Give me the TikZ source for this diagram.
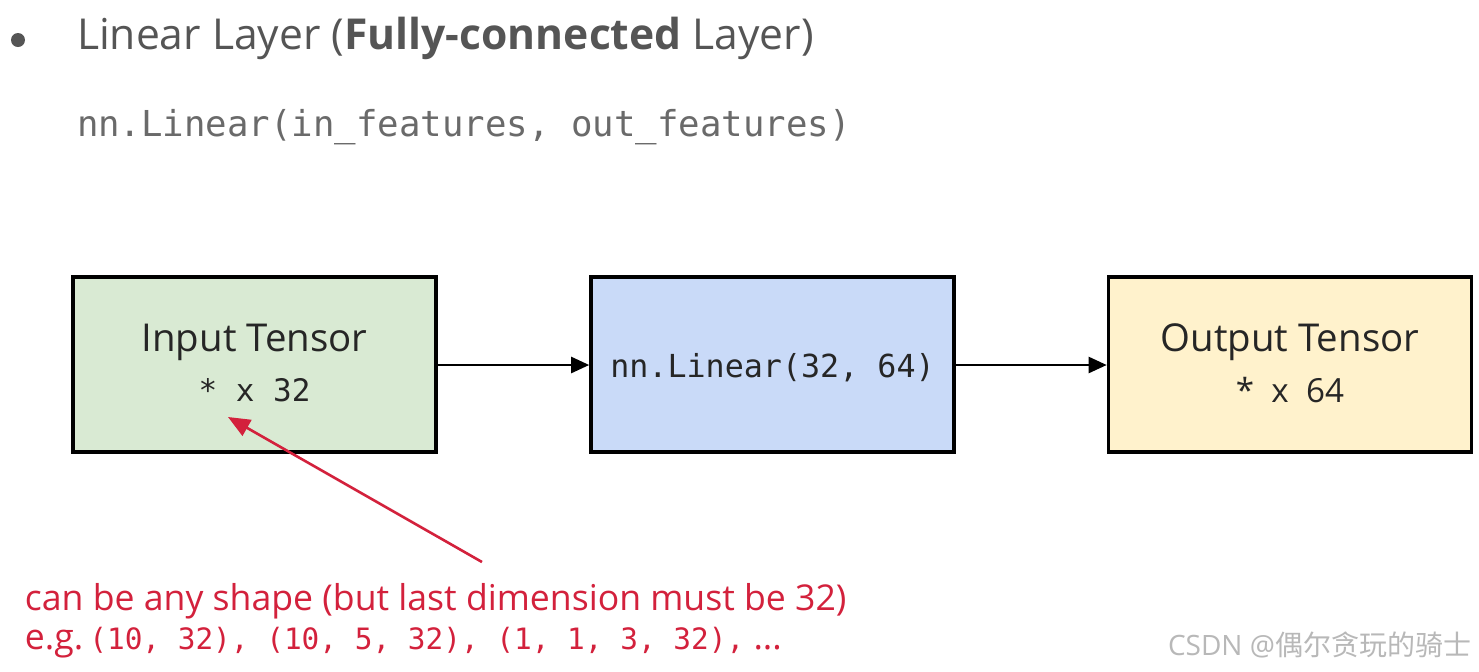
\documentclass[tikz,border=0pt]{standalone}
\usepackage{fontspec}
\setmainfont{Open Sans}
\setmonofont{DejaVu Sans Mono}
\newfontfamily\cjkfont{Noto Sans CJK SC}
\usetikzlibrary{arrows.meta}
\definecolor{titlegray}{HTML}{555555}
\definecolor{codegray}{HTML}{6A6A6A}
\definecolor{boxtext}{HTML}{262626}
\definecolor{ingreen}{HTML}{D9EAD3}
\definecolor{midblue}{HTML}{C9DAF8}
\definecolor{outyellow}{HTML}{FFF2CC}
\definecolor{notered}{HTML}{D3213C}
\definecolor{wmgray}{HTML}{B8B8B8}
\tikzset{
  tensorbox/.style={draw=black, line width=1.8pt, minimum width=181.5pt, minimum height=87.5pt, inner sep=0pt},
  flowarrow/.style={draw=black, line width=1.2pt, -{Triangle[length=9pt,width=8pt]}},
  notearrow/.style={draw=notered, line width=1.3pt, -{Triangle[length=11pt,width=9pt]}},
  plaintext/.style={inner sep=0pt, outer sep=0pt, anchor=west},
}
\begin{document}
\begin{tikzpicture}[x=0.5pt,y=-0.5pt]
\useasboundingbox[fill=white] (0,0) rectangle (1479,671);
% header
\fill[titlegray] (18,40) circle (7);
\node[plaintext, text=titlegray, font=\fontsize{21.3}{25}\selectfont] (title) at (77,38)
  {Linear Layer (\textbf{Fully-connected} Layer)};
\node[plaintext, text=codegray, font=\ttfamily\fontsize{17.85}{21}\selectfont] (sig) at (77,127)
  {nn.Linear(in\_features, out\_features)};
% boxes
\node[tensorbox, fill=ingreen] (in) at (254.5,364.5) {};
\node[tensorbox, fill=midblue] (mid) at (772.5,364.5) {};
\node[tensorbox, fill=outyellow] (out) at (1290,364.5) {};
\node[inner sep=0pt, text=boxtext, font=\fontsize{19.2}{22}\selectfont] (inlbl) at (254.5,342) {Input Tensor};
\node[inner sep=0pt, text=boxtext, font=\ttfamily\fontsize{15.5}{19}\selectfont] (indim) at (254.5,390) {* x 32};
\node[inner sep=0pt, text=boxtext, font=\ttfamily\fontsize{15.85}{19}\selectfont] (midlbl) at (772.5,368) {nn.Linear(32, 64)};
\node[inner sep=0pt, text=boxtext, font=\fontsize{19.2}{22}\selectfont] (outlbl) at (1290,342) {Output Tensor};
\node[inner sep=0pt, text=boxtext, font=\fontsize{16.6}{19}\selectfont] (outdim) at (1290,390) {*\ \ x\ \ 64};
% connectors
\draw[flowarrow] (in.east |- 0,365) -- (mid.west |- 0,365);
\draw[flowarrow] (mid.east |- 0,365) -- (out.west |- 0,365);
% note
\coordinate (notestart) at (482,562);
\coordinate (notetip) at (228,417);
\draw[notearrow] (notestart) -- (notetip);
\node[plaintext, text=notered, font=\fontsize{17.8}{21}\selectfont] (note1) at (25,601)
  {can be any shape (but last dimension must be 32)};
\node[plaintext, text=notered, font=\fontsize{17.8}{21}\selectfont] (note2) at (25,643)
  {e.g.\,{\ttfamily\fontsize{14.7}{18}\selectfont(10, 32), (10, 5, 32), (1, 1, 3, 32),} ...};
% watermark
\node[plaintext, text=wmgray, font=\fontsize{14}{16}\selectfont] (wm) at (1168,645)
  {CSDN @{\cjkfont 偶尔贪玩的骑士}};
\end{tikzpicture}
\end{document}
